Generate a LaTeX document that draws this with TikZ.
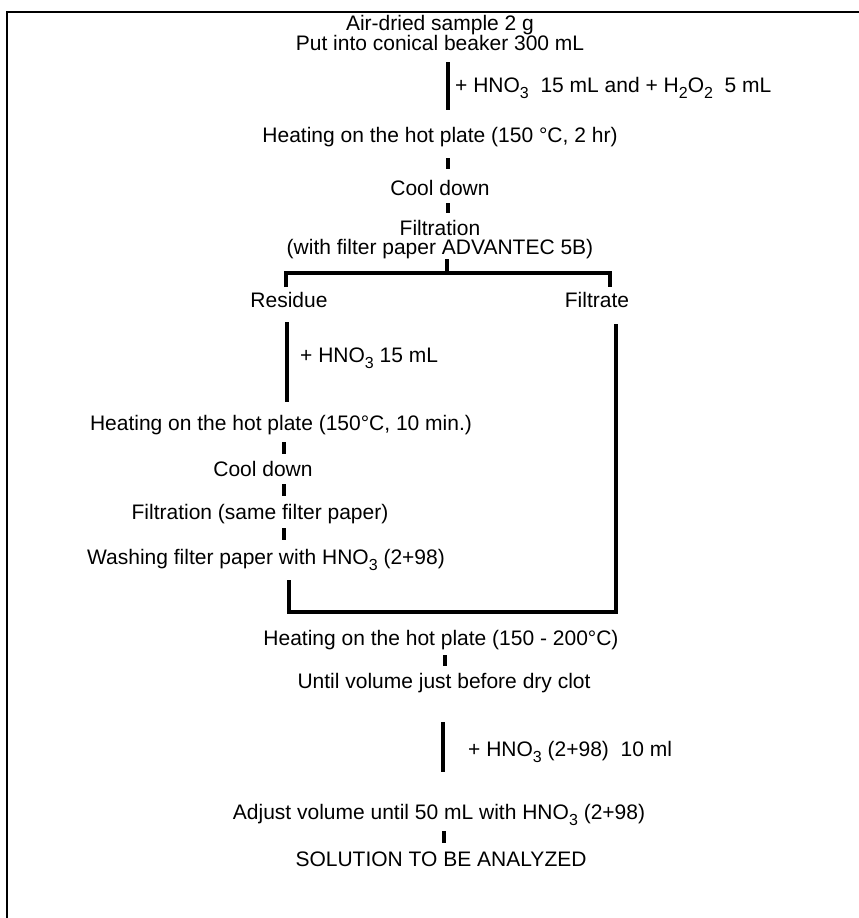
\documentclass[tikz,border=0pt]{standalone}
\usepackage{fontspec}
\setmainfont{Liberation Sans}
\newcommand\sbs[1]{\raisebox{-6pt}{\fontsize{16}{16}\selectfont #1}}
\begin{document}
\begin{tikzpicture}[x=1pt,y=-1pt,
  txt/.style={inner sep=0pt, anchor=base, font=\fontsize{21}{22}\selectfont},
  lbl/.style={txt, anchor=base west},
  bar/.style={line width=4.5pt},
  tick/.style={line width=4pt},
  frameline/.style={line width=2.5pt}]
\useasboundingbox (0,0) rectangle (859,918);
% frame
\coordinate (ftl) at (7,12); \coordinate (ftr) at (859,12); \coordinate (fbl) at (7,918);
\draw[frameline] (ftr) -- (ftl) -- (fbl);
% top column
\node[txt] (t1) at (440,30) {Air-dried sample 2 g};
\node[txt] (t2) at (440,50) {Put into conical beaker 300 mL};
\coordinate (b1t) at (448,62); \coordinate (b1b) at (448,110);
\draw[bar] (b1t) -- (b1b);
\node[lbl] (l1) at (455,92) {+ HNO\sbs{3}\ \ 15 mL and + H\sbs{2}O\sbs{2}\ \ 5 mL};
\node[txt] (h1) at (440,142) {Heating on the hot plate (150 °C, 2 hr)};
\coordinate (k1t) at (448,158); \coordinate (k1b) at (448,169);
\draw[tick] (k1t) -- (k1b);
\node[txt] (c1) at (440,195) {Cool down};
\coordinate (k2t) at (448,203); \coordinate (k2b) at (448,213);
\draw[tick] (k2t) -- (k2b);
\node[txt] (f1) at (440,235) {Filtration};
\node[txt] (f1b) at (440,254) {(with filter paper ADVANTEC 5B)};
% bracket
\coordinate (st) at (447,259); \coordinate (sb) at (447,273);
\coordinate (bl) at (286,273); \coordinate (br) at (610,273);
\coordinate (bll) at (286,287); \coordinate (brl) at (610,287);
\draw[bar] (st) -- (sb);
\draw[bar] (bll) -- (bl) -- (br) -- (brl);
\node[txt] (res) at (289,307) {Residue};
\node[txt] (fil) at (597,307) {Filtrate};
% residue branch
\coordinate (rbt) at (287,322); \coordinate (rbb) at (287,402);
\draw[bar] (rbt) -- (rbb);
\node[lbl] (l2) at (300,362) {+ HNO\sbs{3} 15 mL};
\node[txt] (h2) at (281,430) {Heating on the hot plate (150°C, 10 min.)};
\coordinate (k3t) at (284,442); \coordinate (k3b) at (284,454);
\draw[tick] (k3t) -- (k3b);
\node[txt] (c2) at (263,476) {Cool down};
\coordinate (k4t) at (284,484); \coordinate (k4b) at (284,496);
\draw[tick] (k4t) -- (k4b);
\node[txt] (f2) at (260,519) {Filtration (same filter paper)};
\coordinate (k5t) at (284,528); \coordinate (k5b) at (284,540);
\draw[tick] (k5t) -- (k5b);
\node[txt] (w) at (266,564) {Washing filter paper with HNO\sbs{3} (2+98)};
% filtrate branch and join
\coordinate (fbt) at (616,324); \coordinate (fbb) at (616,612);
\coordinate (jl) at (289,612); \coordinate (jlt) at (289,580);
\draw[bar] (fbt) -- (fbb) -- (jl) -- (jlt);
% bottom column
\node[txt] (h3) at (441,645) {Heating on the hot plate (150 - 200°C)};
\coordinate (k6t) at (445,655); \coordinate (k6b) at (445,666);
\draw[tick] (k6t) -- (k6b);
\node[txt] (u) at (444,688) {Until volume just before dry clot};
\coordinate (b2t) at (443,722); \coordinate (b2b) at (443,772);
\draw[bar] (b2t) -- (b2b);
\node[lbl] (l3) at (468,756) {+ HNO\sbs{3} (2+98)\ \ 10 ml};
\node[txt] (a) at (439,819) {Adjust volume until 50 mL with HNO\sbs{3} (2+98)};
\coordinate (k7t) at (444,831); \coordinate (k7b) at (444,843);
\draw[tick] (k7t) -- (k7b);
\node[txt] (s) at (441,866) {SOLUTION TO BE ANALYZED};
\end{tikzpicture}
\end{document}
